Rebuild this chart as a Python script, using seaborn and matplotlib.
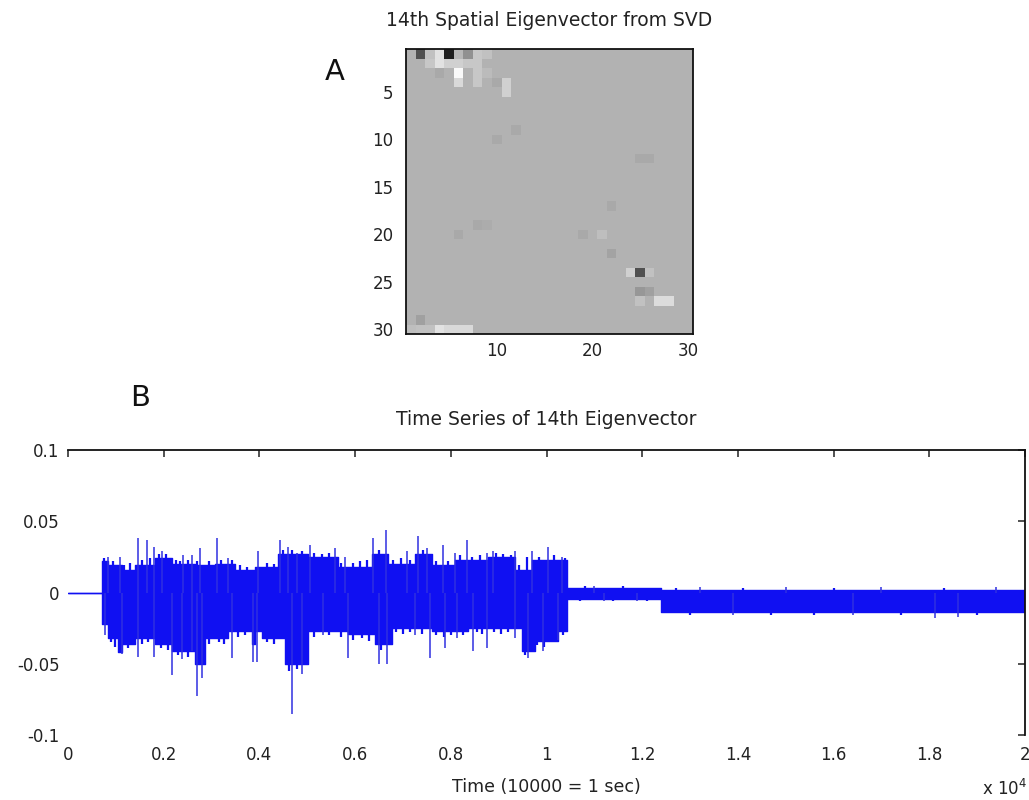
import numpy as np
import matplotlib
matplotlib.use("Agg")
import matplotlib.pyplot as plt
import seaborn as sns

# ---------------- Panel A data: 30x30 spatial eigenvector (sparse non-zero cells) ----------------
grid_size = 30
cell_rows = [1, 1, 1, 1, 1, 1, 1, 1,
             2, 2, 2, 2, 2, 2,
             3, 3, 3, 3,
             4, 4, 4, 4,
             5,
             9, 10, 12, 12,
             17, 19, 19, 20, 20, 20, 22,
             24, 24, 24, 26, 26, 27, 27, 27,
             29, 30, 30, 30, 30, 30, 30, 30]
cell_cols = [2, 3, 4, 5, 6, 7, 8, 9,
             3, 4, 5, 6, 7, 8,
             4, 6, 8, 9,
             6, 8, 10, 11,
             11,
             12, 10, 25, 26,
             22, 8, 9, 6, 19, 21, 22,
             24, 25, 26, 25, 26, 25, 27, 28,
             2, 1, 2, 3, 4, 5, 6, 7]
cell_vals = [-0.33, 0.05, 0.16, -0.49, 0.02, -0.11, 0.07, 0.05,
             0.07, 0.16, 0.10, 0.10, 0.07, 0.07,
             -0.03, 0.24, 0.07, 0.03,
             0.13, 0.07, -0.03, 0.10,
             0.10,
             -0.03, -0.03, -0.03, -0.03,
             -0.03, -0.03, -0.02, -0.03, -0.03, 0.04, -0.05,
             0.10, -0.33, 0.05, -0.09, -0.06, 0.05, 0.14, 0.14,
             -0.06, 0.04, 0.05, 0.05, 0.16, 0.13, 0.13, 0.13]
heat_xticks = [10, 20, 30]
heat_yticks = [5, 10, 15, 20, 25, 30]

# ---------------- Panel B data: time-series envelope (samples) ----------------
env_t = [0, 710, 840, 1050, 1130, 1400, 1820, 2170, 2650, 2860, 3070, 3340, 3490,
         3850, 3910, 4050, 4390, 4540, 5020, 5640, 5850, 6350, 6420, 6690, 6770,
         7250, 7610, 8090, 8360, 8780, 9340, 9490, 9700, 9760, 10240, 10430, 12400, 20000]
env_hi = [0, 0.022, 0.019, 0.019, 0.0155, 0.019, 0.0245, 0.020, 0.019, 0.019,
          0.020, 0.020, 0.0155, 0.0155, 0.0176, 0.0176, 0.027, 0.027, 0.025, 0.018,
          0.018, 0.027, 0.027, 0.020, 0.020, 0.027, 0.019, 0.0225, 0.0225, 0.025,
          0.0155, 0.0155, 0.0225, 0.0225, 0.0225, 0.003, 0.002, 0.002]
env_lo = [0, -0.022, -0.032, -0.042, -0.036, -0.032, -0.036, -0.041, -0.050, -0.032,
          -0.032, -0.027, -0.027, -0.036, -0.027, -0.032, -0.032, -0.050, -0.027, -0.027,
          -0.029, -0.029, -0.036, -0.036, -0.0246, -0.0246, -0.027, -0.027, -0.025, -0.025,
          -0.025, -0.041, -0.041, -0.034, -0.027, -0.0045, -0.014, -0.014]

# isolated tall spikes
spike_up_t = [836, 1087, 1457, 1645, 1804, 1965, 2404, 2592, 2759, 3120, 3344, 3971,
              4431, 4598, 4786, 5058, 5580, 5789, 6375, 6646, 7085, 7315, 7503, 7838,
              8088, 8339, 8757, 8883, 9342, 9698, 10032, 10325,
              11000, 13200, 15000, 17000, 19400]
spike_up_v = [0.025, 0.025, 0.038, 0.0366, 0.032, 0.029, 0.026, 0.026, 0.031, 0.038, 0.024, 0.029,
              0.0366, 0.032, 0.028, 0.033, 0.031, 0.025, 0.038, 0.044, 0.029, 0.040, 0.031, 0.033,
              0.028, 0.0366, 0.028, 0.029, 0.029, 0.029, 0.032, 0.025,
              0.0045, 0.0040, 0.0040, 0.0040, 0.0040]
spike_dn_t = [773, 1129, 1463, 1797, 2174, 2383, 2592, 2696, 2801, 3428, 3867, 3950,
              4682, 4891, 5330, 5852, 6500, 6667, 7252, 7566, 7879, 8130, 8465, 8757,
              9342, 9614, 9928, 10241,
              11200, 11900, 13900, 16400, 18120, 18600]
spike_dn_v = [-0.030, -0.043, -0.045, -0.045, -0.058, -0.047, -0.041, -0.0725, -0.060, -0.046, -0.0485, -0.0485,
              -0.085, -0.057, -0.030, -0.046, -0.050, -0.050, -0.030, -0.046, -0.039, -0.032, -0.041, -0.039,
              -0.032, -0.046, -0.041, -0.033,
              -0.006, -0.006, -0.016, -0.016, -0.018, -0.0175]

# short hairs along the edge of the dense band
hair_up_t = [760, 950, 1180, 1300, 1550, 1720, 1900, 2050, 2250, 2330, 2500, 2700, 2950,
             3200, 3420, 3600, 3750, 4150, 4300, 4500, 4680, 4900, 5150, 5300, 5450, 5700,
             5950, 6100, 6250, 6500, 6800, 6950, 7150, 7420, 7700, 7950, 8200, 8450, 8600,
             8950, 9100, 9250, 9420, 9600, 9850, 10150, 10380,
             10800, 11600, 12700, 14100, 16000, 18300]
hair_up_v = [0.024, 0.022, 0.019, 0.021, 0.023, 0.024, 0.027, 0.027, 0.023, 0.022, 0.023, 0.022, 0.022,
             0.023, 0.023, 0.019, 0.018, 0.021, 0.020, 0.030, 0.030, 0.029, 0.028, 0.027, 0.028, 0.021,
             0.021, 0.022, 0.023, 0.030, 0.023, 0.024, 0.023, 0.030, 0.022, 0.022, 0.026, 0.025, 0.026,
             0.028, 0.027, 0.026, 0.019, 0.025, 0.025, 0.026, 0.024,
             0.0045, 0.0045, 0.0035, 0.0035, 0.0035, 0.0035]
hair_dn_t = [900, 980, 1250, 1350, 1550, 1680, 1950, 2080, 2300, 2500, 2950, 3150, 3250,
             3560, 3700, 4150, 4300, 4620, 4780, 5150, 5450, 5700, 5950, 6150, 6300, 6550,
             6850, 7000, 7150, 7400, 7700, 7850, 8000, 8250, 8550, 8650, 8900, 9050, 9200,
             9550, 9800, 9950, 10100, 10350,
             10700, 11400, 12100, 13000, 14700, 15600, 17400, 19000]
hair_dn_v = [-0.035, -0.038, -0.039, -0.035, -0.036, -0.035, -0.039, -0.040, -0.044, -0.045, -0.036, -0.035, -0.036,
             -0.031, -0.030, -0.035, -0.036, -0.055, -0.054, -0.031, -0.030, -0.031, -0.033, -0.032, -0.034, -0.040,
             -0.028, -0.029, -0.028, -0.029, -0.030, -0.031, -0.030, -0.030, -0.028, -0.029, -0.028, -0.029, -0.028,
             -0.044, -0.037, -0.038, -0.030, -0.030,
             -0.0060, -0.0060, -0.0060, -0.0155, -0.0155, -0.0155, -0.0160, -0.0155]

ts_xticks = [0, 2000, 4000, 6000, 8000, 10000, 12000, 14000, 16000, 18000, 20000]
ts_xticklabels = ["0", "0.2", "0.4", "0.6", "0.8", "1", "1.2", "1.4", "1.6", "1.8", "2"]
ts_yticks = [-0.1, -0.05, 0, 0.05, 0.1]
ts_yticklabels = ["-0.1", "-0.05", "0", "0.05", "0.1"]

# ---------------- style ----------------
sns.set_style("white")
plt.rcParams["font.family"] = ["DejaVu Sans"]
plt.rcParams["axes.unicode_minus"] = False
txt = "#222222"
blue = "#1010F2"

fig = plt.figure(figsize=(10.29, 8), dpi=100)

# ---------------- Panel A ----------------
M = np.zeros((grid_size, grid_size))
for r, c, v in zip(cell_rows, cell_cols, cell_vals):
    M[r - 1, c - 1] = v

axA = fig.add_axes([0.3946, 0.5825, 0.2786, 0.3559])
sns.heatmap(M, ax=axA, cmap="gray", vmin=-0.6, vmax=0.26, cbar=False,
            xticklabels=False, yticklabels=False)
axA.set_xticks(np.array(heat_xticks) - 0.5)
axA.set_xticklabels([str(v) for v in heat_xticks])
axA.set_yticks(np.array(heat_yticks) - 0.5)
axA.set_yticklabels([str(v) for v in heat_yticks], rotation=0)
axA.tick_params(axis="both", length=0, labelsize=12, colors=txt)
axA.tick_params(axis="x", pad=6)
axA.tick_params(axis="y", pad=9)
for s in axA.spines.values():
    s.set_visible(True)
    s.set_color("#111111")
    s.set_linewidth(1.3)
axA.set_title("14th Spatial Eigenvector from SVD", fontsize=13.5, color=txt, pad=17)

# ---------------- Panel B ----------------
axB = fig.add_axes([0.0661, 0.08125, 0.930, 0.35625])
axB.fill_between(env_t, env_lo, env_hi, step="post", color=blue, linewidth=0)
sns.lineplot(x=env_t, y=env_hi, ax=axB, drawstyle="steps-post", color=blue,
             linewidth=1.0, estimator=None, sort=False)
sns.lineplot(x=env_t, y=env_lo, ax=axB, drawstyle="steps-post", color=blue,
             linewidth=1.0, estimator=None, sort=False)
axB.vlines(hair_up_t, 0, hair_up_v, color=blue, linewidth=1.6)
axB.vlines(hair_dn_t, 0, hair_dn_v, color=blue, linewidth=1.6)
axB.vlines(spike_up_t, 0, spike_up_v, color="#3030E0", linewidth=1.1)
axB.vlines(spike_dn_t, 0, spike_dn_v, color="#3030E0", linewidth=1.1)

axB.set_xlim(0, 20000)
axB.set_ylim(-0.1, 0.1)
axB.set_xticks(ts_xticks)
axB.set_xticklabels(ts_xticklabels)
axB.set_yticks(ts_yticks)
axB.set_yticklabels(ts_yticklabels)
axB.tick_params(axis="both", direction="in", top=True, right=True, length=5,
                width=1.1, color="#222222", labelsize=12, labelcolor=txt)
axB.tick_params(axis="x", pad=8)
axB.tick_params(axis="y", pad=6)
axB.spines["left"].set_visible(False)
axB.spines["bottom"].set_visible(False)
for side in ["top", "right"]:
    axB.spines[side].set_visible(True)
    axB.spines[side].set_color("#111111")
    axB.spines[side].set_linewidth(1.3)
axB.set_title("Time Series of 14th Eigenvector", fontsize=13.5, color=txt, pad=18)
axB.set_xlabel("Time (10000 = 1 sec)", fontsize=12.5, color=txt)
axB.xaxis.set_label_coords(0.5, -0.15)
axB.xaxis.label.set_va("top")

fig.text(1027 / 1029, 1 - 789 / 800, "x 10$^4$", ha="right", va="center",
         fontsize=12, color=txt)
fig.text(335 / 1029, 1 - 72 / 800, "A", ha="center", va="center", fontsize=21, color="#111111")
fig.text(140 / 1029, 1 - 398 / 800, "B", ha="center", va="center", fontsize=21, color="#111111")

fig.savefig("out.png", dpi=100)
